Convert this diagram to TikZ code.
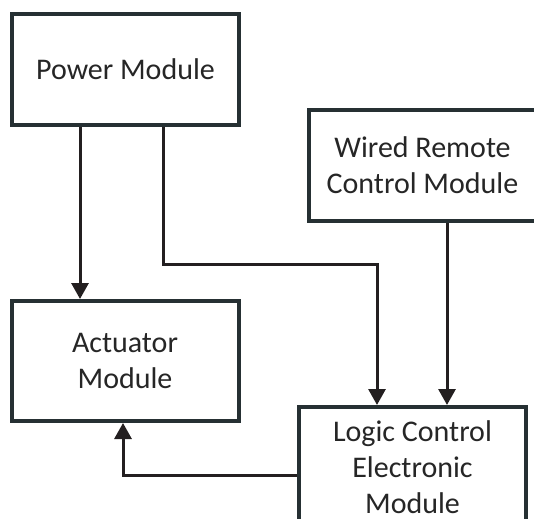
\documentclass[tikz,border=0pt]{standalone}
\usepackage{fontspec}
\setmainfont{Carlito}
\usetikzlibrary{arrows.meta}
\definecolor{boxc}{HTML}{263033}
\definecolor{linec}{HTML}{231F20}
\definecolor{textc}{HTML}{262626}
\tikzset{
  modbox/.style={draw=boxc, line width=2pt, fill=white, minimum width=113.5pt, inner sep=0pt,
    align=center, text=textc, font=\fontsize{15pt}{18pt}\selectfont},
  conn/.style={draw=linec, line width=1.5pt, -{Triangle[length=8pt,width=8.5pt]}},
}
\begin{document}
\begin{tikzpicture}[x=0.5pt,y=-0.5pt]
\useasboundingbox (0,0) rectangle (534,518);
\clip (0,0) rectangle (534,518);
\node[modbox, minimum height=55.5pt] (power) at (125.5,69.5) {Power Module};
\node[modbox, minimum height=60pt] (act) at (125,361) {Actuator\\Module};
\node[modbox, minimum height=55.5pt] (wired) at (422.5,165.5) {Wired Remote\\Control Module};
\node[modbox, minimum height=60pt] (logic) at (412.5,467) {Logic Control\\Electronic\\Module};
\coordinate (c1) at (163,264);
\coordinate (c2) at (377,264);
\coordinate (c3) at (123,475);
\draw[conn] (power.south -| 80,0) -- (act.north -| 80,0);
\draw[conn] (power.south -| c1) -- (c1) -- (c2) -- (logic.north -| c2);
\draw[conn] (wired.south -| 447,0) -- (logic.north -| 447,0);
\draw[conn] (logic.west |- c3) -- (c3) -- (act.south -| c3);
\end{tikzpicture}
\end{document}
